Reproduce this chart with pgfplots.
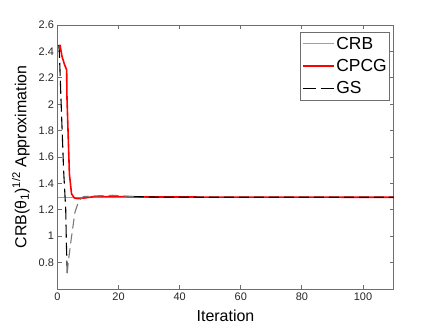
\documentclass[border=0pt]{standalone}
\usepackage{fontspec}
\setmainfont{Liberation Sans}
\usepackage{pgfplots}
\pgfplotsset{compat=1.18}
\definecolor{axgray}{RGB}{110,110,110}
\definecolor{crbgray}{RGB}{160,160,160}
\definecolor{gsgray}{RGB}{120,120,120}

\begin{document}
\begin{tikzpicture}
\useasboundingbox (-57.5bp,-38bp) rectangle (378.5bp,289bp);
\begin{axis}[
  at={(0,0)}, anchor=south west,
  scale only axis, width=336bp, height=264bp,
  xmin=0, xmax=110, ymin=0.6, ymax=2.6,
  xtick={0,20,40,60,80,100},
  ytick={0.8,1,1.2,1.4,1.6,1.8,2,2.2,2.4,2.6},
  tick pos=both, tick align=inside,
  major tick length=4bp,
  axis line style={axgray, line width=0.9pt},
  every tick/.style={axgray, line width=0.8pt},
  /pgf/number format/assume math mode=true,
  tick label style={font=\fontsize{11}{13}\selectfont, text=black!85},
  xlabel={Iteration},
  ylabel={CRB(θ\textsubscript{\large 1})\textsuperscript{1/2} Approximation},
  label style={font=\fontsize{16}{19}\selectfont},
  xlabel style={at={(axis description cs:0.5,-0.1)}, anchor=center},
  ylabel style={at={(axis description cs:-0.109,0.5)}, anchor=center},
  legend style={at={(axis description cs:0.99,0.975)}, anchor=north east,
    draw=axgray, line width=0.8pt, font=\fontsize{17.5}{20}\selectfont,
    row sep=4.5bp, inner xsep=1bp, inner ysep=3bp},
  legend cell align=left,
  legend image code/.code={\draw[#1] (0bp,0bp) -- (31bp,0bp);},
]
\addplot[crbgray, line width=1.3pt] coordinates {(0,1.295) (110,1.295)};
\addlegendentry{CRB}
\addplot[red, line width=1.6pt] coordinates {
  (0.8,2.45) (1.5,2.36) (2.3,2.30) (3,2.26) (3.1,2.05) (3.9,1.47)
  (4.6,1.32) (5.5,1.29) (6.5,1.285) (9,1.29) (12,1.30) (20,1.30)
  (30,1.297) (110,1.295)};
\addlegendentry{CPCG}
\addplot[black, line width=1.1pt, dash pattern=on 13bp off 5bp] coordinates {
  (0.4,2.45) (0.6,2.40) (1.2,2.0) (2.0,1.5) (2.7,1.2) (2.9,0.95) (3.2,0.72)};
\addlegendentry{GS}
\addplot[gsgray, line width=1.1pt, dash pattern=on 10bp off 5bp, forget plot] coordinates {
  (3.2,0.72) (3.5,0.80) (4.5,0.98) (5.7,1.18) (7,1.27) (8.5,1.30)
  (12,1.305) (18,1.31) (25,1.30)};
\addplot[black, line width=1.1pt, dash pattern=on 10bp off 5bp, forget plot] coordinates {
  (25,1.30) (35,1.295) (110,1.295)};
\end{axis}
\end{tikzpicture}
\end{document}
